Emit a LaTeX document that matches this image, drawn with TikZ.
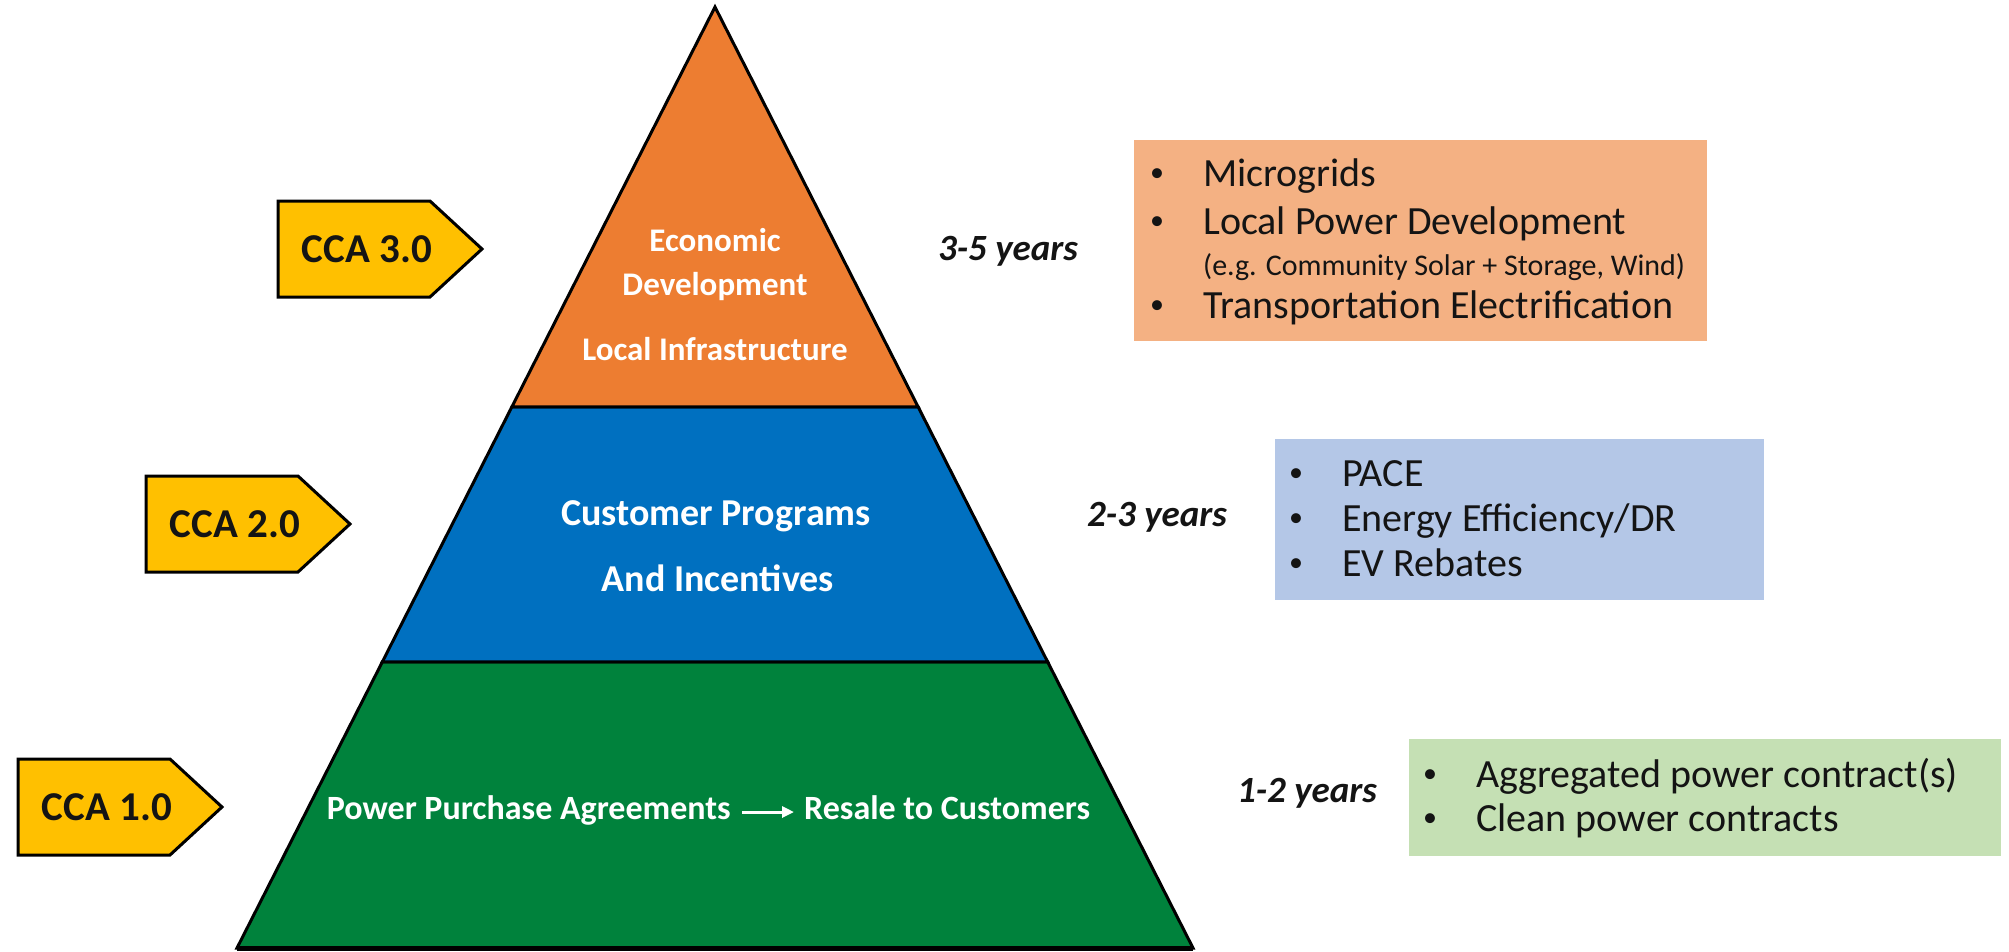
\documentclass[tikz,border=0pt]{standalone}
\usepackage{fontspec}
\setmainfont{Carlito}
\usepackage{tikz}
\usetikzlibrary{calc,arrows.meta}
\definecolor{tierorange}{RGB}{237,125,49}
\definecolor{tierblue}{RGB}{0,112,192}
\definecolor{tiergreen}{RGB}{0,130,60}
\definecolor{tagyellow}{RGB}{255,192,0}
\definecolor{boxorange}{RGB}{244,177,131}
\definecolor{boxblue}{RGB}{180,199,231}
\definecolor{boxgreen}{RGB}{197,224,180}
\definecolor{ink}{RGB}{20,20,20}
\newcommand{\tagw}{152}
\newcommand{\tagtip}{52}
% tag: name, left x, middle y, text
\newcommand{\ccatag}[4]{%
	\draw[tagline] (#2,#3-48) -- ++(\tagw,0) -- ++(\tagtip,48) -- ++(-\tagtip,48) -- ++(-\tagw,0) -- cycle;
	\node[tagtext] (#1) at (#2+89,#3) {#4};}
\newcommand{\bitem}[1]{\makebox[56pt][l]{\hspace{3pt}\raisebox{4.5pt}{\fontsize{28}{30}\selectfont\textbullet}}#1}

\begin{document}
\begin{tikzpicture}[x=1pt,y=-1pt,
	tier/.style={draw=black, line width=3pt, line join=miter},
	tiertext/.style={anchor=base, inner sep=0, text=white, font=\bfseries\fontsize{33}{40}\selectfont},
	tagline/.style={draw=black, line width=3pt, fill=tagyellow, line join=miter},
	tagtext/.style={inner sep=0, text=ink, font=\bfseries\fontsize{41}{49}\selectfont},
	years/.style={anchor=base, inner sep=0, text=ink, font=\bfseries\itshape\fontsize{37}{44}\selectfont},
	listbox/.style={anchor=north west, inner sep=0, draw=none},
	item/.style={anchor=base west, inner sep=0, text=ink, font=\fontsize{40}{48}\selectfont},
	flowarrow/.style={draw=white, line width=3pt, -{Triangle[length=12pt,width=11pt]}}]
	\useasboundingbox (0,0) rectangle (2009,951);
	
	% pyramid
	\coordinate (apex) at (715,7);
	\coordinate (bl) at (237,948);
	\coordinate (br) at (1193,948);
	\coordinate (l1) at ($(apex)!0.425!(bl)$);
	\coordinate (r1) at ($(apex)!0.425!(br)$);
	\coordinate (l2) at ($(apex)!0.696!(bl)$);
	\coordinate (r2) at ($(apex)!0.696!(br)$);
	\filldraw[tier, fill=tiergreen] (l2) -- (r2) -- (br) -- (bl) -- cycle;
	\filldraw[tier, fill=tierblue] (l1) -- (r1) -- (r2) -- (l2) -- cycle;
	\filldraw[tier, fill=tierorange] (apex) -- (r1) -- (l1) -- cycle;
	\draw[line width=5pt] (bl) -- (br);
	
	\node[tiertext] (econ) at (715,251) {Economic};
	\node[tiertext] (devel) at (715,295) {Development};
	\node[tiertext] (infra) at (715,360) {Local Infrastructure};
	\node[tiertext, font=\bfseries\fontsize{38}{46}\selectfont] (custprog) at (716,525) {Customer Programs};
	\node[tiertext, font=\bfseries\fontsize{38}{46}\selectfont] (incent) at (718,591) {And Incentives};
	\node[tiertext, anchor=base east, font=\bfseries\fontsize{34}{41}\selectfont] (ppa) at (731,819) {Power Purchase Agreements};
	\node[tiertext, anchor=base west, font=\bfseries\fontsize{34}{41}\selectfont] (resale) at (804,819) {Resale to Customers};
	\draw[flowarrow] ([xshift=11pt,yshift=7pt]ppa.base east) -- ([xshift=-10pt,yshift=7pt]resale.base west);
	
	% tags
	\ccatag{cca3}{278}{249}{CCA 3.0}
	\ccatag{cca2}{146}{524}{CCA 2.0}
	\ccatag{cca1}{18}{807}{CCA 1.0}
	
	% years
	\node[years] (yr3) at (1008,260) {3-5 years};
	\node[years] (yr2) at (1157,526) {2-3 years};
	\node[years] (yr1) at (1307,802) {1-2 years};
	
	% lists
	\node[listbox, fill=boxorange, minimum width=573pt, minimum height=201pt] (ecobox) at (1134,140) {};
	\node[item] (micro) at (1147,186) {\bitem{Microgrids}};
	\node[item] (localpow) at (1147,234) {\bitem{Local Power Development}};
	\node[item, font=\fontsize{30}{36}\selectfont] (eg) at (1203,275) {(e.g. Community Solar + Storage, Wind)};
	\node[item] (transp) at (1147,318) {\bitem{Transportation Electrification}};
	
	\node[listbox, fill=boxblue, minimum width=489pt, minimum height=161pt] (progbox) at (1275,439) {};
	\node[item] (pace) at (1286,486) {\bitem{PACE}};
	\node[item] (effic) at (1286,531) {\bitem{Energy Efficiency/DR}};
	\node[item] (rebate) at (1286,576) {\bitem{EV Rebates}};
	
	\node[listbox, fill=boxgreen, minimum width=592pt, minimum height=117pt] (ppabox) at (1409,739) {};
	\node[item] (aggr) at (1420,787) {\bitem{Aggregated power contract(s)}};
	\node[item] (clean) at (1420,831) {\bitem{Clean power contracts}};
\end{tikzpicture}
\end{document}
